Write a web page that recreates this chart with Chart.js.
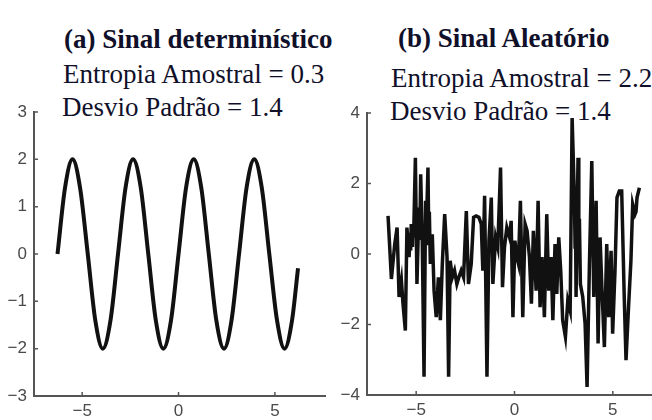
<!DOCTYPE html>
<html>
<head>
<meta charset="utf-8">
<script src="https://cdn.jsdelivr.net/npm/chart.js@4.4.0/dist/chart.umd.min.js"></script>
<style>
    html, body { margin: 0; padding: 0; background: #fff; }
    #page { position: relative; width: 652px; height: 420px; overflow: hidden; }
    .txt { position: absolute; white-space: nowrap; font-family: "Liberation Serif", "Times New Roman", serif; color: #10102a; line-height: 1; }
    canvas { position: absolute; top: 0; }
    #wrapB { position: absolute; left: 330px; top: 0; width: 322px; height: 420px; overflow: hidden; }
</style>
</head>
<body>
<div id="page">
    <div id="labels"></div>
    <canvas id="chartA" width="330" height="420" style="left:0"></canvas>
    <div id="wrapB"><canvas id="chartB" width="340" height="420" style="left:0"></canvas></div>
</div>
<script>
// (a) deterministic signal
const sineX = [-6.28, -5.89, -5.50, -5.11, -4.71, -4.32, -3.93, -3.53,
               -3.14, -2.75, -2.36, -1.96, -1.57, -1.18, -0.79, -0.39,
                0.00,  0.39,  0.79,  1.18,  1.57,  1.96,  2.36,  2.75,
                3.14,  3.53,  3.93,  4.32,  4.71,  5.11,  5.50,  5.89, 6.20];
const sineY = [0, 1.4, 2, 1.4, 0, -1.4, -2, -1.4,
               0, 1.4, 2, 1.4, 0, -1.4, -2, -1.4,
               0, 1.4, 2, 1.4, 0, -1.4, -2, -1.4,
               0, 1.4, 2, 1.4, 0, -1.4, -2, -1.4, -0.3];

// (b) random signal
const noiseX = [-6.43, -6.26, -6.09, -5.97, -5.87, -5.75, -5.67, -5.55, -5.47, -5.36,
                -5.30, -5.28, -5.25, -5.19, -5.16, -5.13, -5.04, -4.96, -4.86, -4.82,
                -4.77, -4.69, -4.60, -4.52, -4.48, -4.45, -4.40, -4.36, -4.33, -4.28,
                -4.18, -4.09, -3.98, -3.87, -3.77, -3.67, -3.55, -3.43, -3.35,
                -3.27, -3.16, -3.05, -2.93, -2.83, -2.71, -2.59, -2.45, -2.34, -2.20,
                -2.08, -1.95, -1.81, -1.69, -1.61, -1.52, -1.40, -1.30, -1.18, -1.10,
                -0.96, -0.85, -0.71, -0.61, -0.51, -0.39, -0.25, -0.17, -0.08, 0.02,
                 0.12, 0.20, 0.30, 0.42, 0.54, 0.64, 0.76, 0.86, 0.96, 1.10,
                 1.20, 1.30, 1.40, 1.52, 1.64, 1.74, 1.86, 1.95, 2.06, 2.15,
                 2.25, 2.35, 2.45, 2.59, 2.71, 2.83, 2.93, 3.05, 3.08, 3.10,
                 3.13, 3.23, 3.27, 3.30, 3.35, 3.47, 3.59, 3.69, 3.81, 3.93,
                 4.03, 4.15, 4.25, 4.35, 4.45, 4.57, 4.69, 4.79, 4.91, 4.99,
                 5.11, 5.21, 5.33, 5.45, 5.58, 5.67, 5.79, 5.92, 6.01, 6.13,
                 6.18, 6.23, 6.35];
const noiseY = [1.08, -0.71, 0.28, 0.75, -1.22, -0.75, -1.41, -2.17, 0.75, -0.09,
                0.60, 0.10, 0.85, 0.20, 0.80, 0.47, 2.73, -0.85, 1.32, 0.40,
                2.26, 0.38, -3.48, 1.51, 0.30, 1.40, 2.45, 0.50, 1.20, -0.28,
                0.56, -1.04, -1.79, -0.66, -1.88, -0.28, 1.13, -0.09, -3.48,
                -0.19, -0.66, -0.47, -0.85, -0.66, -0.47, -0.66, 1.22, -0.85, -0.28,
                1.04, 1.08, 1.04, 0.85, -0.47, 1.65, -3.48, 0.38, 1.60, -0.85,
                0.47, 0.19, 2.45, -0.94, 0.19, 0.75, 0.47, 0.94, -1.79, 0.38,
                -0.09, -0.28, 1.51, -1.79, 0.85, 0.66, -0.09, -1.41, 0.66, -1.04,
                1.51, -1.51, -0.09, -1.79, 1.13, -1.04, -0.09, -1.88, 0.28, -1.13,
                0.47, -0.47, -1.88, -2.35, -1.32, -1.60, 3.86, 1.51, 0.20, 1.30,
                -1.22, 2.73, 0.20, 1.00, -0.85, -1.22, -1.98, -3.77, -0.28, 2.64,
                -1.22, 1.51, -2.54, 0.47, -1.04, -2.64, 0.28, -1.79, 0.09, -2.26,
                -0.47, 1.60, 1.79, 1.79, -1.22, -3.01, -1.60, -0.19, 1.41, 1.13,
                1.20, 1.60, 1.88];

// Tick labels
const xTicks = [-5, 0, 5];
const yTicksA = [-3, -2, -1, 0, 1, 2, 3];
const yTicksB = [-4, -2, 0, 2, 4];

// Texts above the panels
const texts = [
    { text: '(a) Sinal determinístico', x: 64, base: 49, size: 27, bold: true },
    { text: '(b) Sinal Aleatório', x: 398, base: 48, size: 27, bold: true },
    { text: 'Entropia Amostral = 0.3', x: 63, base: 84, size: 27 },
    { text: 'Desvio Padrão = 1.4', x: 62, base: 117, size: 27 },
    { text: 'Entropia Amostral = 2.2', x: 391, base: 88, size: 27 },
    { text: 'Desvio Padrão = 1.4', x: 390, base: 121, size: 27 }
];

const axisColor = '#555';
const tickFont = { family: '"Liberation Sans", Arial, sans-serif', size: 17 };

function placeTexts() {
    const box = document.getElementById('labels');
    texts.forEach(t => {
        const div = document.createElement('div');
        div.className = 'txt';
        div.textContent = t.text;
        div.style.fontSize = t.size + 'px';
        div.style.fontWeight = t.bold ? 'bold' : 'normal';
        div.style.left = t.x + 'px';
        div.style.top = (t.base - 0.838 * t.size) + 'px';
        box.appendChild(div);
    });
}

// Matlab style: short tick marks pointing into the plot
const innerTicks = {
    id: 'innerTicks',
    beforeDatasetsDraw(chart) {
        const { ctx, chartArea, scales } = chart;
        ctx.save();
        ctx.strokeStyle = axisColor;
        ctx.lineWidth = 1.5;
        ctx.beginPath();
        scales.x.ticks.forEach(t => {
            const px = scales.x.getPixelForValue(t.value);
            ctx.moveTo(px, chartArea.bottom);
            ctx.lineTo(px, chartArea.bottom - 4);
        });
        scales.y.ticks.forEach(t => {
            const py = scales.y.getPixelForValue(t.value);
            ctx.moveTo(chartArea.left, py);
            ctx.lineTo(chartArea.left + 4, py);
        });
        ctx.stroke();
        ctx.restore();
    }
};

function minusLabel(v) {
    return String(v).replace('-', '\u2212');
}

function makeChart(id, xs, ys, opts) {
    const ctx = document.getElementById(id).getContext('2d');
    return new Chart(ctx, {
        type: 'scatter',
        data: {
            datasets: [{
                data: xs.map((x, i) => ({ x: x, y: ys[i] })),
                showLine: true,
                borderColor: '#111',
                borderWidth: opts.lineWidth,
                pointRadius: 0,
                fill: false,
                cubicInterpolationMode: opts.smooth ? 'monotone' : 'default',
                tension: 0
            }]
        },
        options: {
            responsive: false,
            animation: false,
            events: [],
            layout: { padding: { top: opts.top, right: opts.right, left: 0, bottom: 0 } },
            plugins: { legend: { display: false }, tooltip: { enabled: false } },
            scales: {
                x: {
                    type: 'linear',
                    min: opts.xMin,
                    max: opts.xMax,
                    grid: { display: false, drawTicks: false },
                    border: { color: axisColor, width: 2 },
                    ticks: { color: '#4a4a4a', font: tickFont, padding: 5, maxRotation: 0, callback: minusLabel },
                    afterBuildTicks: s => { s.ticks = xTicks.map(v => ({ value: v })); },
                    afterFit: s => { s.height = opts.xHeight; }
                },
                y: {
                    type: 'linear',
                    min: opts.yMin,
                    max: opts.yMax,
                    grid: { display: false, drawTicks: false },
                    border: { color: axisColor, width: 2 },
                    ticks: { color: '#4a4a4a', font: tickFont, padding: 7, callback: minusLabel },
                    afterBuildTicks: s => { s.ticks = opts.yTicks.map(v => ({ value: v })); },
                    afterFit: s => { s.width = opts.yWidth; }
                }
            }
        },
        plugins: [innerTicks]
    });
}

placeTexts();

makeChart('chartA', sineX, sineY, {
    lineWidth: 4, smooth: true,
    top: 112, right: 5, xHeight: 24, yWidth: 34,
    xMin: -7.5, xMax: 7.6, yMin: -3, yMax: 3, yTicks: yTicksA
});

makeChart('chartB', noiseX, noiseY, {
    lineWidth: 3.5, smooth: false,
    top: 113, right: 8, xHeight: 25, yWidth: 37,
    xMin: -7.5, xMax: 7.5, yMin: -4, yMax: 4, yTicks: yTicksB
});
</script>
</body>
</html>
